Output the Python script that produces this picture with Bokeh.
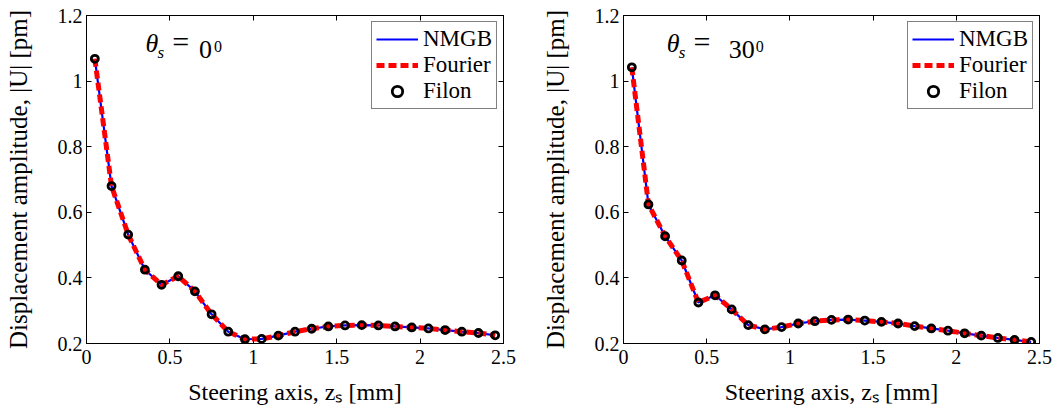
from bokeh.plotting import figure
from bokeh.models import FixedTicker, LinearAxis, Label, Legend, LegendItem, Range1d
from bokeh.layouts import row
from bokeh.embed import file_html
from bokeh.resources import INLINE

# ---------------- data ----------------
z_s = [0.05, 0.15, 0.25, 0.35, 0.45, 0.55, 0.65, 0.75, 0.85, 0.95,
       1.05, 1.15, 1.25, 1.35, 1.45, 1.55, 1.65, 1.75, 1.85, 1.95,
       2.05, 2.15, 2.25, 2.35, 2.45]

u_theta0 = [1.068, 0.680, 0.532, 0.425, 0.379, 0.405, 0.359, 0.289, 0.236, 0.213,
            0.214, 0.224, 0.236, 0.245, 0.252, 0.255, 0.256, 0.255, 0.252, 0.249,
            0.246, 0.241, 0.236, 0.232, 0.225]

u_theta30 = [1.042, 0.624, 0.527, 0.453, 0.325, 0.347, 0.304, 0.256, 0.243, 0.250,
             0.261, 0.268, 0.272, 0.273, 0.270, 0.266, 0.261, 0.253, 0.246, 0.239,
             0.231, 0.224, 0.217, 0.211, 0.205]

x_ticks = [0, 0.5, 1, 1.5, 2, 2.5]
x_tick_labels = ["0", "0.5", "1", "1.5", "2", "2.5"]
y_ticks = [0.2, 0.4, 0.6, 0.8, 1.0, 1.2]
y_tick_labels = ["0.2", "0.4", "0.6", "0.8", "1", "1.2"]

series_names = ["NMGB", "Fourier", "Filon"]
x_label = "Steering axis, z\u209b [mm]"
y_label = "Displacement amplitude, |U| [pm]"

FONT = "Liberation Serif, Times New Roman, serif"


def make_panel(u, theta_deg, tx, digits_x, sup_x, width, mb_left, mb_right):
    p = figure(width=width, height=411, output_backend="svg", toolbar_location=None,
               x_range=Range1d(0, 2.5), y_range=Range1d(0.2, 1.2),
               min_border_left=mb_left, min_border_right=mb_right,
               min_border_top=15, min_border_bottom=68)
    p.xgrid.visible = False
    p.ygrid.visible = False
    p.outline_line_color = "black"
    p.outline_line_width = 1
    p.background_fill_color = "white"
    p.border_fill_color = "white"

    # bottom / left axes
    for ax, ticks, labels in ((p.xaxis[0], x_ticks, x_tick_labels),
                              (p.yaxis[0], y_ticks, y_tick_labels)):
        ax.ticker = FixedTicker(ticks=ticks)
        ax.major_label_overrides = {t: l for t, l in zip(ticks, labels)}
        ax.major_tick_in = 5
        ax.major_tick_out = 0
        ax.minor_tick_line_color = None
        ax.axis_line_color = "black"
        ax.major_tick_line_color = "black"
        ax.major_label_text_font = FONT
        ax.major_label_text_font_size = "20px"
        ax.major_label_text_color = "black"
        ax.axis_label_text_font = FONT
        ax.axis_label_text_font_style = "normal"
        ax.axis_label_text_color = "black"
    p.xaxis[0].axis_label = x_label
    p.xaxis[0].axis_label_text_font_size = "24px"
    p.xaxis[0].major_label_standoff = 6
    p.xaxis[0].axis_label_standoff = 12
    p.yaxis[0].axis_label = y_label
    p.yaxis[0].axis_label_text_font_size = "25px"
    p.yaxis[0].major_label_standoff = 4
    p.yaxis[0].axis_label_standoff = 23

    # top / right axes: ticks only
    for loc, ticks in (("above", x_ticks), ("right", y_ticks)):
        ax = LinearAxis(ticker=FixedTicker(ticks=ticks), major_tick_in=5, major_tick_out=0,
                        minor_tick_line_color=None, major_label_text_font_size="0px",
                        major_label_text_color=None, major_label_standoff=0,
                        axis_line_color="black", major_tick_line_color="black")
        p.add_layout(ax, loc)

    r1 = p.line(z_s, u, line_color="#0000ff", line_width=2.2)
    r2 = p.line(z_s, u, line_color="#ff0000", line_width=5, line_dash="8 4")
    r3 = p.scatter(z_s, u, marker="circle", size=7, fill_color=None,
                   line_color="black", line_width=2.8)

    legend = Legend(items=[LegendItem(label=series_names[0], renderers=[r1]),
                           LegendItem(label=series_names[1], renderers=[r2]),
                           LegendItem(label=series_names[2], renderers=[r3])],
                    location="top_right", margin=6, padding=4, spacing=0,
                    glyph_width=42, glyph_height=26, label_height=26, label_standoff=5,
                    label_text_font=FONT, label_text_font_size="23px",
                    label_text_color="black",
                    border_line_color="black", border_line_width=1,
                    background_fill_color="white", background_fill_alpha=1)
    p.add_layout(legend)

    # theta_s annotation
    p.add_layout(Label(x=tx, y=1.0704, text="\u03b8", text_font=FONT,
                       text_font_style="italic", text_font_size="26px", text_color="black"))
    p.add_layout(Label(x=tx + 0.072, y=1.0591, text="s", text_font=FONT,
                       text_font_style="italic", text_font_size="17px", text_color="black"))
    p.add_layout(Label(x=tx + 0.16, y=1.0704, text="=", text_font=FONT,
                       text_font_size="30px", text_color="black"))
    p.add_layout(Label(x=digits_x, y=1.0704, text=str(theta_deg), text_font=FONT,
                       text_font_size="26px", text_color="black"))
    p.add_layout(Label(x=sup_x, y=1.0874, text="0", text_font=FONT,
                       text_font_size="16px", text_color="black"))
    return p


p1 = make_panel(u_theta0, 0, 0.354, 0.675, 0.765, width=520, mb_left=86, mb_right=17)
p2 = make_panel(u_theta30, 30, 0.26, 0.633, 0.795, width=537, mb_left=103, mb_right=18)

layout = row(p1, p2)
open("out.html", "w").write(file_html(layout, INLINE))
